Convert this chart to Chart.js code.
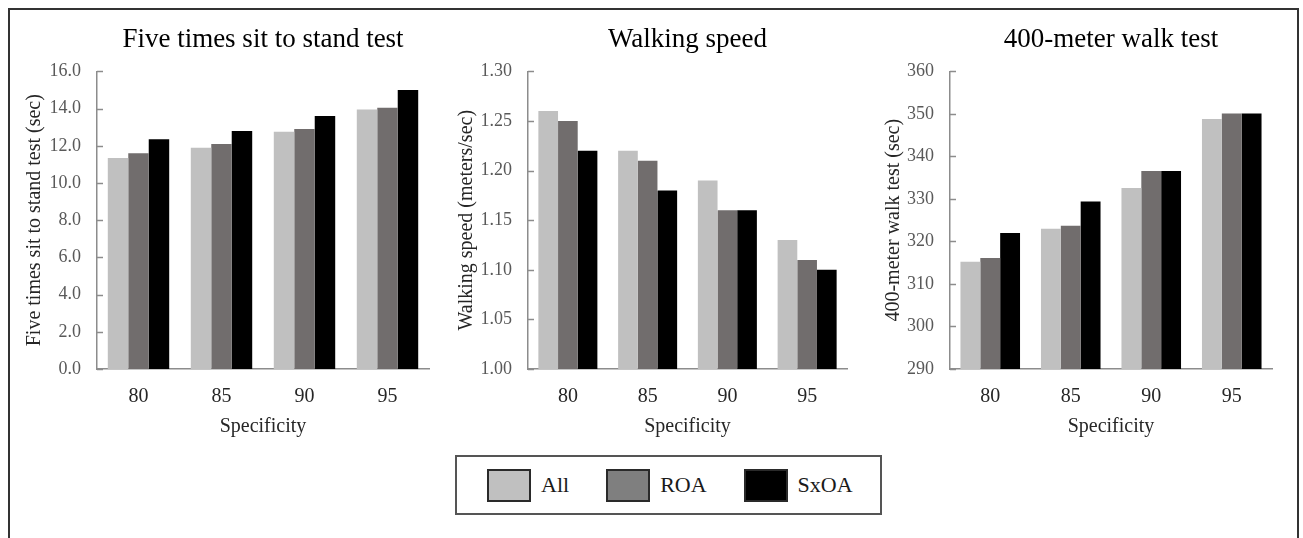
<!DOCTYPE html>
<html>
<head>
<meta charset="utf-8">
<script src="https://cdn.jsdelivr.net/npm/chart.js@4.4.1/dist/chart.umd.min.js"></script>
<style>
  body { margin: 0; background: #fff; width: 1303px; height: 538px; overflow: hidden; position: relative; font-family: "Liberation Serif", "Times New Roman", serif; }
  #frame { position: absolute; left: 8px; top: 8px; width: 1287px; height: 540px; border: 2px solid #333; }
  canvas { position: absolute; top: 0; }
  #legend { position: absolute; left: 455px; top: 455px; width: 423px; height: 56px; border: 2px solid #555; display: flex; align-items: center; box-sizing: content-box; }
  .item { display: flex; align-items: center; font-size: 22px; color: #1a1a1a; margin-left: 30px; }
  .item + .item { margin-left: 37px; }
  .swatch { width: 40px; height: 29px; border: 2px solid #2a2a2a; margin-right: 10px; }
</style>
</head>
<body>
<div id="frame"></div>
<canvas id="c1" width="432" height="450" style="left:12px"></canvas>
<canvas id="c2" width="428" height="450" style="left:444px"></canvas>
<canvas id="c3" width="420" height="450" style="left:872px"></canvas>
<div id="legend"></div>
<script>
// categories and series
var categories = ['80', '85', '90', '95'];
var seriesNames = ['All', 'ROA', 'SxOA'];
var seriesColors = ['#c0c0c0', '#716d6d', '#000000'];

// Five times sit to stand test (sec)
var sitStandAll  = [11.35, 11.9, 12.75, 13.95];
var sitStandROA  = [11.6, 12.1, 12.9, 14.05];
var sitStandSxOA = [12.35, 12.8, 13.6, 15.0];
var sitStandTicks = [0, 2, 4, 6, 8, 10, 12, 14, 16];

// Walking speed (meters/sec)
var speedAll  = [1.26, 1.22, 1.19, 1.13];
var speedROA  = [1.25, 1.21, 1.16, 1.11];
var speedSxOA = [1.22, 1.18, 1.16, 1.10];
var speedTicks = [1.00, 1.05, 1.10, 1.15, 1.20, 1.25, 1.30];

// 400-meter walk test (sec)
var walkAll  = [315.2, 323.0, 332.6, 348.8];
var walkROA  = [316.1, 323.7, 336.6, 350.1];
var walkSxOA = [322.0, 329.4, 336.6, 350.1];
var walkTicks = [290, 300, 310, 320, 330, 340, 350, 360];

var serif = '"Liberation Serif", "Times New Roman", serif';
Chart.defaults.font.family = serif;
var axisColor = '#8c8c8c';

// short tick marks pointing into the plot, like the original
var innerTicks = {
    id: 'innerTicks',
    afterDatasetsDraw: function (chart) {
        var y = chart.scales.y;
        var c = chart.ctx;
        c.save();
        c.strokeStyle = axisColor;
        c.lineWidth = 1.5;
        y.ticks.forEach(function (t) {
            var py = Math.round(y.getPixelForValue(t.value)) + 0.5;
            c.beginPath();
            c.moveTo(y.right, py);
            c.lineTo(y.right + 6, py);
            c.stroke();
        });
        c.restore();
    }
};

function makePanel(id, title, yTitle, seriesData, ticks, decimals, yWidth, yTitlePad, padRight) {
    var ctx = document.getElementById(id).getContext('2d');
    return new Chart(ctx, {
        type: 'bar',
        data: {
            labels: categories,
            datasets: seriesData.map(function (d, i) {
                return {
                    label: seriesNames[i],
                    data: d,
                    backgroundColor: seriesColors[i],
                    borderWidth: 0,
                    barPercentage: 1.0,
                    categoryPercentage: 0.74
                };
            })
        },
        plugins: [innerTicks],
        options: {
            responsive: false,
            animation: false,
            layout: { padding: { left: 0, right: padRight, top: 0, bottom: 0 } },
            plugins: {
                legend: { display: false },
                tooltip: { enabled: false },
                title: {
                    display: true,
                    text: title,
                    fullSize: false,
                    color: '#000',
                    font: { size: 27, weight: 'normal' },
                    padding: { top: 24, bottom: 15 }
                }
            },
            scales: {
                x: {
                    afterFit: function (s) { s.height = 81; },
                    grid: { display: false },
                    border: { color: axisColor, width: 1.5 },
                    ticks: { color: '#262626', font: { size: 20 }, padding: 8 },
                    title: {
                        display: true,
                        text: 'Specificity',
                        color: '#262626',
                        font: { size: 20 },
                        padding: { top: 0, bottom: 11 }
                    }
                },
                y: {
                    min: ticks[0],
                    max: ticks[ticks.length - 1],
                    afterFit: function (s) { s.width = yWidth; },
                    afterBuildTicks: function (s) {
                        s.ticks = ticks.map(function (v) { return { value: v }; });
                    },
                    grid: { display: false, drawTicks: false },
                    border: { color: axisColor, width: 1.5 },
                    ticks: {
                        color: '#595959',
                        font: { size: 18 },
                        padding: 16,
                        callback: function (v) { return Number(v).toFixed(decimals); }
                    },
                    title: {
                        display: true,
                        text: yTitle,
                        color: '#262626',
                        font: { size: 20 },
                        padding: { top: yTitlePad, bottom: 0 }
                    }
                }
            }
        }
    });
}

makePanel('c1', 'Five times sit to stand test', 'Five times sit to stand test (sec)',
    [sitStandAll, sitStandROA, sitStandSxOA], sitStandTicks, 1, 85, 11, 15);
makePanel('c2', 'Walking speed', 'Walking speed (meters/sec)',
    [speedAll, speedROA, speedSxOA], speedTicks, 2, 84, 11, 25);
makePanel('c3', '400-meter walk test', '400-meter walk test (sec)',
    [walkAll, walkROA, walkSxOA], walkTicks, 0, 78, 10, 20);

// shared legend
var legend = document.getElementById('legend');
seriesNames.forEach(function (name, i) {
    var item = document.createElement('div');
    item.className = 'item';
    var sw = document.createElement('div');
    sw.className = 'swatch';
    sw.style.background = i === 1 ? '#7f7f7f' : seriesColors[i];
    item.appendChild(sw);
    item.appendChild(document.createTextNode(name));
    legend.appendChild(item);
});
</script>
</body>
</html>
